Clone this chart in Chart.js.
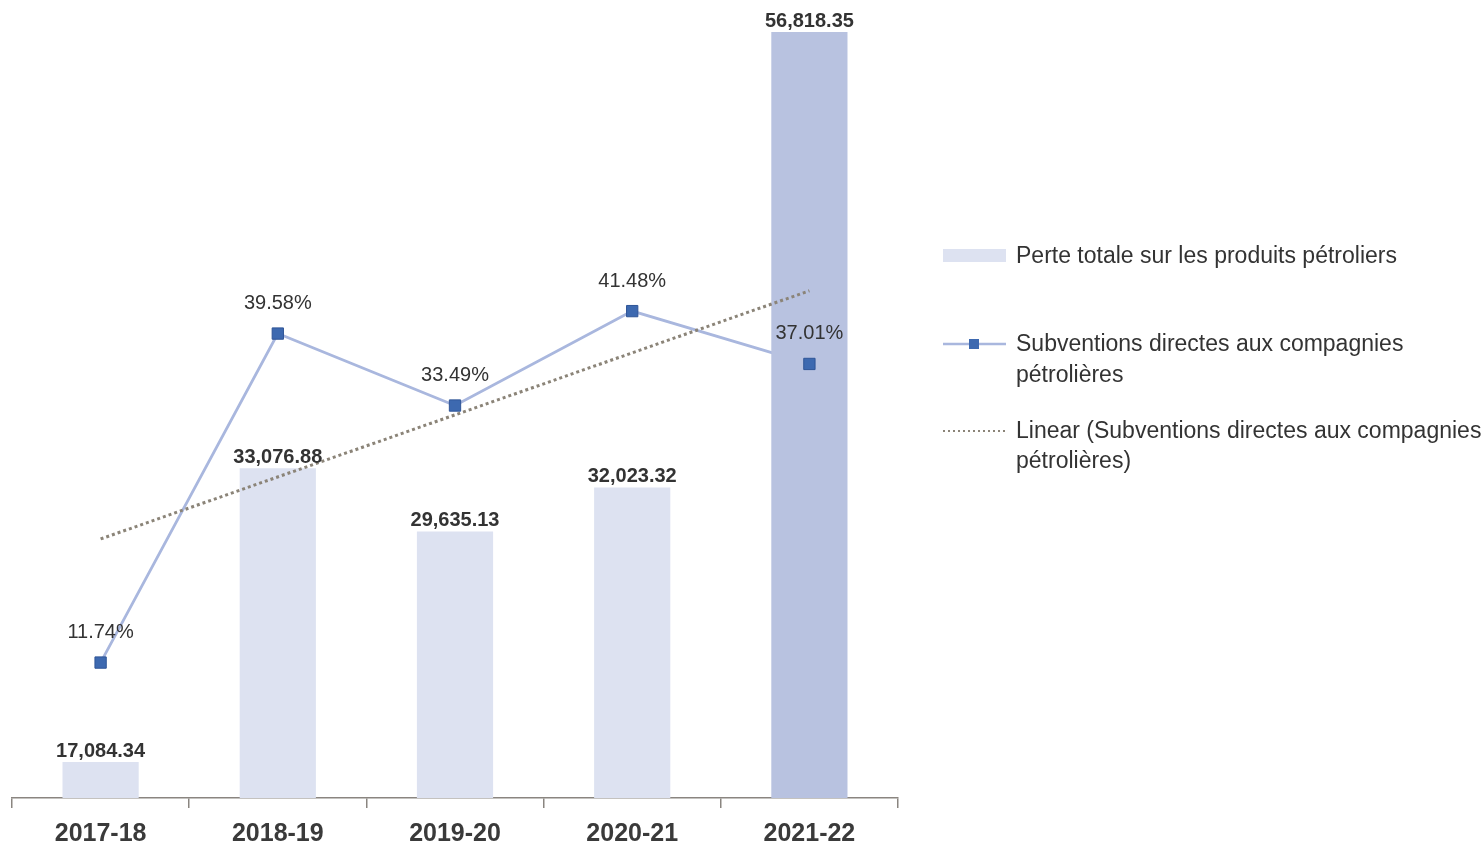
<!DOCTYPE html>
<html>
<head>
<meta charset="utf-8">
<script src="https://cdn.jsdelivr.net/npm/chart.js@4.4.1/dist/chart.umd.min.js"></script>
<style>
  html, body { margin: 0; padding: 0; background: #ffffff; }
</style>
</head>
<body>
<canvas id="comboChart" width="1484" height="845"></canvas>
<script>
const years = ['2017-18', '2018-19', '2019-20', '2020-21', '2021-22'];
const lossTotals = [17084.34, 33076.88, 29635.13, 32023.32, 56818.35];
const subsidyShare = [11.74, 39.58, 33.49, 41.48, 37.01];
// trend line end points (linear fit of subsidyShare)
const trendShare = [22.2, null, null, null, 43.2];
const barColors = ['#dde2f1', '#dde2f1', '#dde2f1', '#dde2f1', '#b8c2e0'];

const FONT = "'Liberation Sans', Arial, sans-serif";
const TEXT = '#333333';
const LINE_COLOR = '#a9b7de';
const MARKER_COLOR = '#3d69b0';
const TREND_COLOR = '#8b8478';

// value labels above bars and markers
const valueLabels = {
    id: 'valueLabels',
    afterDatasetsDraw(chart) {
        const ctx = chart.ctx;
        ctx.save();
        ctx.textAlign = 'center';
        ctx.textBaseline = 'middle';
        ctx.fillStyle = TEXT;

        ctx.font = 'bold 20px ' + FONT;
        chart.getDatasetMeta(1).data.forEach((bar, i) => {
            const txt = lossTotals[i].toLocaleString('en-US', {minimumFractionDigits: 2, maximumFractionDigits: 2});
            ctx.fillText(txt, bar.x, bar.y - 11);
        });

        ctx.font = '20px ' + FONT;
        chart.getDatasetMeta(3).data.forEach((pt, i) => {
            ctx.fillText(subsidyShare[i].toFixed(2) + '%', pt.x, pt.y - 30);
        });
        ctx.restore();
    }
};

// legend on the right side, Excel style
const sideLegend = {
    id: 'sideLegend',
    afterDraw(chart) {
        const ctx = chart.ctx;
        const x0 = 943, x1 = 1006, tx = 1016;
        ctx.save();
        ctx.font = '23px ' + FONT;
        ctx.fillStyle = TEXT;
        ctx.textBaseline = 'middle';
        ctx.textAlign = 'left';

        // bars
        ctx.fillStyle = barColors[0];
        ctx.fillRect(x0, 249, x1 - x0, 13);
        ctx.fillStyle = TEXT;
        ctx.fillText('Perte totale sur les produits pétroliers', tx, 257);

        // line with markers
        ctx.strokeStyle = LINE_COLOR;
        ctx.lineWidth = 2.5;
        ctx.beginPath();
        ctx.moveTo(x0, 344);
        ctx.lineTo(x1, 344);
        ctx.stroke();
        ctx.fillStyle = MARKER_COLOR;
        ctx.fillRect(969, 339, 10, 10);
        ctx.fillStyle = TEXT;
        ctx.fillText('Subventions directes aux compagnies', tx, 345);
        ctx.fillText('pétrolières', tx, 376);

        // trend line
        ctx.strokeStyle = TREND_COLOR;
        ctx.lineWidth = 2;
        ctx.setLineDash([2, 3]);
        ctx.beginPath();
        ctx.moveTo(x0, 431);
        ctx.lineTo(x1, 431);
        ctx.stroke();
        ctx.setLineDash([]);
        ctx.fillText('Linear (Subventions directes aux compagnies', tx, 432);
        ctx.fillText('pétrolières)', tx, 462);
        ctx.restore();
    }
};

const ctx = document.getElementById('comboChart').getContext('2d');

const comboChart = new Chart(ctx, {
    data: {
        labels: years,
        datasets: [
            {
                // connecting line, sits behind the bars
                type: 'line',
                label: 'Subventions directes aux compagnies pétrolières',
                data: subsidyShare,
                yAxisID: 'yPct',
                borderColor: LINE_COLOR,
                borderWidth: 2.8,
                pointRadius: 0,
                tension: 0,
                order: 4
            },
            {
                type: 'bar',
                label: 'Perte totale sur les produits pétroliers',
                data: lossTotals,
                yAxisID: 'yLoss',
                backgroundColor: barColors,
                borderWidth: 0,
                barPercentage: 0.43,
                categoryPercentage: 1.0,
                order: 3
            },
            {
                type: 'line',
                label: 'Linear (Subventions directes aux compagnies pétrolières)',
                data: trendShare,
                yAxisID: 'yPct',
                spanGaps: true,
                borderColor: TREND_COLOR,
                borderWidth: 3,
                borderDash: [3, 3],
                pointRadius: 0,
                order: 2
            },
            {
                // markers drawn above the bars
                type: 'line',
                label: 'markers',
                data: subsidyShare,
                yAxisID: 'yPct',
                showLine: false,
                pointStyle: 'rect',
                pointRadius: 8,
                pointBackgroundColor: MARKER_COLOR,
                pointBorderColor: '#2f5597',
                pointBorderWidth: 1,
                order: 1
            }
        ]
    },
    options: {
        responsive: false,
        animation: false,
        layout: {
            padding: {left: 12, right: 586, top: 10, bottom: 0}
        },
        plugins: {
            legend: {display: false},
            tooltip: {enabled: false}
        },
        scales: {
            x: {
                offset: true,
                grid: {
                    offset: true,
                    drawOnChartArea: false,
                    drawTicks: true,
                    tickLength: 10,
                    color: '#8a8580',
                    lineWidth: 1.5
                },
                border: {color: '#8a8580', width: 1.5},
                ticks: {
                    font: {family: FONT, size: 25, weight: 'bold'},
                    color: '#3a3a3a',
                    padding: 11
                },
                afterFit(scale) {
                    scale.height = 47;
                }
            },
            yLoss: {
                display: false,
                min: 15125,
                max: 58015
            },
            yPct: {
                display: false,
                min: 0.28,
                max: 66.96
            }
        }
    },
    plugins: [valueLabels, sideLegend]
});
</script>
</body>
</html>
